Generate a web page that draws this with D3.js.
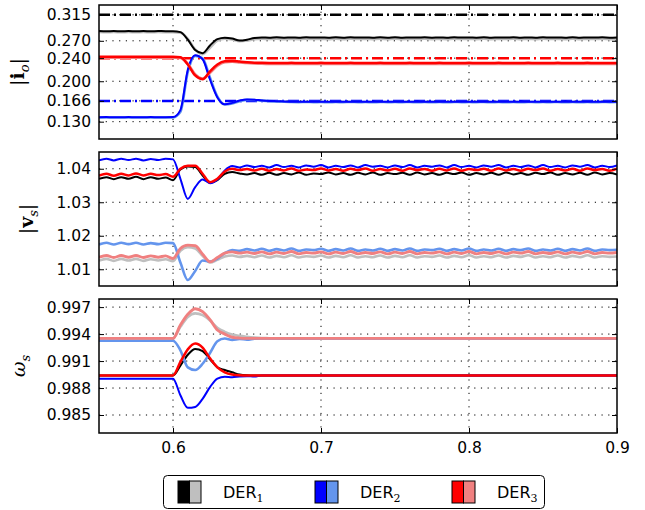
<!DOCTYPE html>
<html>
<head>
<meta charset="utf-8">
<script src="https://cdn.jsdelivr.net/npm/d3@7"></script>
<style>
body { margin: 0; background: #fff; }
text { font-family: "DejaVu Sans", sans-serif; }
</style>
</head>
<body>
<div id="myChart"></div>
<script>
// time axis (s) for the |i_o| and |v_s| traces
const time = [0.55,0.555,0.56,0.565,0.57,0.575,0.58,0.585,0.59,0.595,
  0.6,0.605,0.61,0.615,0.62,0.625,0.63,0.635,0.64,0.645,
  0.65,0.655,0.66,0.665,0.67,0.675,0.68,0.685,0.69,0.695,
  0.7,0.705,0.71,0.715,0.72,0.725,0.73,0.735,0.74,0.745,
  0.75,0.755,0.76,0.765,0.77,0.775,0.78,0.785,0.79,0.795,
  0.8,0.805,0.81,0.815,0.82,0.825,0.83,0.835,0.84,0.845,
  0.85,0.855,0.86,0.865,0.87,0.875,0.88,0.885,0.89,0.895,
  0.9];
// time axis for the omega traces (flat outside the transient)
const timeOmega = [0.55,0.595,0.6,0.605,0.61,0.615,0.62,0.625,0.63,0.635,0.64,0.645,0.65,0.655,0.66,0.665,0.67,0.9];

const derNames = ["1", "2", "3"];
const timeTicks = [0.6, 0.7, 0.8, 0.9];
const ioTicks = [0.130, 0.166, 0.200, 0.240, 0.270, 0.315];
const vsTicks = [1.01, 1.02, 1.03, 1.04];
const wTicks = [0.985, 0.988, 0.991, 0.994, 0.997];

// reference currents (dash-dot)
const ioRef = [0.315, 0.166, 0.240];

// |i_o|
const ioDer1 = [0.2868,0.2865,0.2869,0.2866,0.2868,0.2865,0.2869,0.2866,0.2868,0.2867,
  0.2866,0.2850,0.2720,0.2540,0.2485,0.2620,0.2730,0.2755,0.2740,0.2705,
  0.2720,0.2750,0.2758,0.2754,0.2760,0.2755,0.2759,0.2754,0.2761,0.2756,
  0.2758,0.2754,0.2760,0.2755,0.2761,0.2756,0.2759,0.2754,0.2760,0.2755,
  0.2761,0.2754,0.2758,0.2756,0.2760,0.2755,0.2759,0.2754,0.2761,0.2756,
  0.2758,0.2755,0.2760,0.2754,0.2759,0.2756,0.2761,0.2755,0.2758,0.2754,
  0.2760,0.2756,0.2759,0.2754,0.2761,0.2755,0.2758,0.2756,0.2760,0.2755,
  0.2758];
const ioDer1b = [0.2852,0.2848,0.2853,0.2849,0.2852,0.2848,0.2853,0.2849,0.2852,0.2850,
  0.2849,0.2842,0.2735,0.2550,0.2470,0.2580,0.2705,0.2735,0.2725,0.2695,
  0.2705,0.2728,0.2735,0.2731,0.2736,0.2730,0.2734,0.2729,0.2736,0.2731,
  0.2734,0.2729,0.2735,0.2730,0.2736,0.2731,0.2733,0.2729,0.2735,0.2730,
  0.2736,0.2729,0.2734,0.2731,0.2735,0.2730,0.2733,0.2729,0.2736,0.2731,
  0.2734,0.2730,0.2735,0.2729,0.2733,0.2731,0.2736,0.2730,0.2734,0.2729,
  0.2735,0.2731,0.2734,0.2729,0.2736,0.2730,0.2733,0.2731,0.2735,0.2730,
  0.2733];
const ioDer2 = [0.1377,0.1379,0.1378,0.1377,0.1379,0.1378,0.1377,0.1379,0.1378,0.1378,
  0.1380,0.1500,0.2200,0.2450,0.2380,0.2030,0.1720,0.1600,0.1625,0.1665,
  0.1685,0.1680,0.1668,0.1660,0.1655,0.1650,0.1646,0.1644,0.1647,0.1644,
  0.1646,0.1643,0.1646,0.1644,0.1647,0.1644,0.1646,0.1643,0.1647,0.1644,
  0.1646,0.1644,0.1647,0.1643,0.1646,0.1644,0.1646,0.1643,0.1647,0.1644,
  0.1646,0.1644,0.1647,0.1643,0.1646,0.1644,0.1646,0.1643,0.1647,0.1644,
  0.1646,0.1644,0.1647,0.1643,0.1646,0.1644,0.1646,0.1643,0.1647,0.1644,
  0.1646];
const ioDer2b = [0.1371,0.1373,0.1372,0.1371,0.1373,0.1372,0.1371,0.1373,0.1372,0.1372,
  0.1373,0.1470,0.2160,0.2440,0.2395,0.2060,0.1735,0.1598,0.1615,0.1655,
  0.1678,0.1676,0.1664,0.1655,0.1650,0.1644,0.1640,0.1638,0.1641,0.1638,
  0.1640,0.1637,0.1640,0.1638,0.1641,0.1638,0.1640,0.1637,0.1641,0.1638,
  0.1640,0.1638,0.1641,0.1637,0.1640,0.1638,0.1640,0.1637,0.1641,0.1638,
  0.1640,0.1638,0.1641,0.1637,0.1640,0.1638,0.1640,0.1637,0.1641,0.1638,
  0.1640,0.1638,0.1641,0.1637,0.1640,0.1638,0.1640,0.1637,0.1641,0.1638,
  0.1640];
const ioDer3 = [0.2422,0.2424,0.2423,0.2422,0.2424,0.2423,0.2422,0.2424,0.2423,0.2423,
  0.2423,0.2415,0.2290,0.2100,0.2035,0.2170,0.2290,0.2345,0.2350,0.2340,
  0.2330,0.2322,0.2318,0.2316,0.2317,0.2314,0.2318,0.2315,0.2317,0.2314,
  0.2318,0.2315,0.2317,0.2315,0.2318,0.2314,0.2317,0.2315,0.2318,0.2314,
  0.2317,0.2315,0.2318,0.2314,0.2317,0.2315,0.2318,0.2314,0.2317,0.2315,
  0.2318,0.2314,0.2317,0.2315,0.2318,0.2314,0.2317,0.2315,0.2318,0.2314,
  0.2317,0.2315,0.2318,0.2314,0.2317,0.2315,0.2318,0.2314,0.2317,0.2315,
  0.2316];
const ioDer3b = [0.2409,0.2411,0.2410,0.2409,0.2411,0.2410,0.2409,0.2411,0.2410,0.2410,
  0.2410,0.2408,0.2300,0.2115,0.2045,0.2150,0.2270,0.2330,0.2340,0.2330,
  0.2318,0.2310,0.2305,0.2303,0.2300,0.2304,0.2301,0.2303,0.2300,0.2304,
  0.2301,0.2303,0.2300,0.2304,0.2301,0.2303,0.2300,0.2304,0.2301,0.2303,
  0.2300,0.2304,0.2301,0.2303,0.2300,0.2304,0.2301,0.2303,0.2300,0.2304,
  0.2301,0.2303,0.2300,0.2304,0.2301,0.2303,0.2300,0.2304,0.2301,0.2303,
  0.2300,0.2304,0.2301,0.2303,0.2300,0.2304,0.2301,0.2303,0.2300,0.2304,
  0.2302];

// |v_s|
const vsDer1 = [1.0370,1.0375,1.0369,1.0375,1.0370,1.0376,1.0369,1.0375,1.0370,1.0374,
  1.0366,1.0398,1.0407,1.0405,1.0380,1.0358,1.0366,1.0385,1.0390,1.0386,
  1.0383,1.0387,1.0382,1.0388,1.0382,1.0387,1.0383,1.0389,1.0382,1.0386,
  1.0384,1.0389,1.0383,1.0387,1.0382,1.0388,1.0383,1.0389,1.0382,1.0387,
  1.0384,1.0388,1.0382,1.0389,1.0383,1.0387,1.0382,1.0388,1.0384,1.0389,
  1.0382,1.0387,1.0383,1.0388,1.0382,1.0389,1.0383,1.0387,1.0382,1.0388,
  1.0384,1.0389,1.0382,1.0387,1.0383,1.0388,1.0382,1.0389,1.0383,1.0387,
  1.0383];
const vsDer1b = [1.0126,1.0131,1.0125,1.0131,1.0126,1.0131,1.0125,1.0130,1.0126,1.0130,
  1.0124,1.0155,1.0166,1.0162,1.0140,1.0120,1.0128,1.0138,1.0141,1.0137,
  1.0140,1.0136,1.0141,1.0135,1.0140,1.0136,1.0142,1.0135,1.0139,1.0137,
  1.0141,1.0135,1.0140,1.0136,1.0142,1.0135,1.0139,1.0136,1.0141,1.0135,
  1.0140,1.0136,1.0142,1.0135,1.0139,1.0137,1.0141,1.0135,1.0140,1.0136,
  1.0142,1.0135,1.0139,1.0136,1.0141,1.0135,1.0140,1.0137,1.0142,1.0135,
  1.0139,1.0136,1.0141,1.0135,1.0140,1.0136,1.0142,1.0135,1.0139,1.0137,
  1.0138];
const vsDer2 = [1.0425,1.0430,1.0425,1.0430,1.0426,1.0430,1.0425,1.0429,1.0426,1.0430,
  1.0428,1.0370,1.0310,1.0345,1.0368,1.0357,1.0368,1.0395,1.0408,1.0404,
  1.0410,1.0405,1.0409,1.0404,1.0411,1.0405,1.0409,1.0404,1.0410,1.0406,
  1.0411,1.0404,1.0409,1.0405,1.0410,1.0404,1.0411,1.0406,1.0409,1.0404,
  1.0410,1.0405,1.0411,1.0404,1.0409,1.0406,1.0410,1.0404,1.0411,1.0405,
  1.0409,1.0404,1.0410,1.0406,1.0411,1.0404,1.0409,1.0405,1.0410,1.0404,
  1.0411,1.0405,1.0409,1.0404,1.0410,1.0406,1.0411,1.0404,1.0409,1.0405,
  1.0410];
const vsDer2b = [1.0174,1.0179,1.0174,1.0179,1.0175,1.0179,1.0174,1.0178,1.0175,1.0179,
  1.0178,1.0120,1.0068,1.0095,1.0126,1.0123,1.0132,1.0148,1.0157,1.0155,
  1.0160,1.0156,1.0161,1.0155,1.0160,1.0156,1.0162,1.0155,1.0159,1.0157,
  1.0161,1.0155,1.0160,1.0156,1.0162,1.0155,1.0159,1.0156,1.0161,1.0155,
  1.0160,1.0156,1.0162,1.0155,1.0159,1.0157,1.0161,1.0155,1.0160,1.0156,
  1.0162,1.0155,1.0159,1.0156,1.0161,1.0155,1.0160,1.0157,1.0162,1.0155,
  1.0159,1.0156,1.0161,1.0155,1.0160,1.0156,1.0162,1.0155,1.0159,1.0157,
  1.0158];
const vsDer3 = [1.0380,1.0385,1.0379,1.0385,1.0380,1.0386,1.0380,1.0385,1.0381,1.0384,
  1.0376,1.0400,1.0409,1.0409,1.0385,1.0360,1.0370,1.0392,1.0400,1.0396,
  1.0399,1.0395,1.0400,1.0394,1.0399,1.0395,1.0401,1.0394,1.0398,1.0396,
  1.0401,1.0395,1.0399,1.0394,1.0400,1.0396,1.0401,1.0394,1.0399,1.0395,
  1.0400,1.0394,1.0401,1.0396,1.0399,1.0394,1.0400,1.0395,1.0401,1.0394,
  1.0399,1.0396,1.0400,1.0394,1.0401,1.0395,1.0399,1.0394,1.0400,1.0396,
  1.0401,1.0394,1.0399,1.0395,1.0400,1.0394,1.0401,1.0396,1.0399,1.0394,
  1.0400];
const vsDer3b = [1.0136,1.0141,1.0135,1.0141,1.0136,1.0141,1.0135,1.0140,1.0136,1.0140,
  1.0132,1.0162,1.0172,1.0170,1.0145,1.0122,1.0135,1.0148,1.0152,1.0148,
  1.0151,1.0147,1.0152,1.0146,1.0151,1.0147,1.0153,1.0146,1.0150,1.0148,
  1.0152,1.0146,1.0151,1.0147,1.0153,1.0146,1.0150,1.0147,1.0152,1.0146,
  1.0151,1.0147,1.0153,1.0146,1.0150,1.0148,1.0152,1.0146,1.0151,1.0147,
  1.0153,1.0146,1.0150,1.0147,1.0152,1.0146,1.0151,1.0148,1.0153,1.0146,
  1.0150,1.0147,1.0152,1.0146,1.0151,1.0147,1.0153,1.0146,1.0150,1.0148,
  1.0150];

// omega_s
const wDer1 = [0.98940,0.98940,0.98940,0.9905,0.9917,0.99235,0.9921,0.9912,0.9903,0.9900,0.98975,0.9895,0.98942,0.9894,0.9894,0.9894,0.9894,0.9894];
const wDer1b = [0.99352,0.99352,0.99352,0.9948,0.9959,0.9963,0.9961,0.9955,0.9947,0.99425,0.99395,0.9938,0.9937,0.99362,0.99356,0.99354,0.99352,0.99352];
const wDer2 = [0.98903,0.98903,0.98903,0.9872,0.9858,0.9859,0.9868,0.9881,0.98905,0.98925,0.9892,0.98928,0.98932,0.98928,0.9894,0.9894,0.9894,0.9894];
const wDer2b = [0.99326,0.99326,0.99326,0.9922,0.9903,0.9900,0.9907,0.9919,0.9932,0.9935,0.99335,0.99345,0.99338,0.99348,0.99352,0.99352,0.99352,0.99352];
const wDer3 = [0.98940,0.98940,0.98940,0.9909,0.9923,0.99295,0.9925,0.9913,0.9903,0.98975,0.9895,0.98942,0.9894,0.9894,0.9894,0.9894,0.9894,0.9894];
const wDer3b = [0.99352,0.99352,0.99352,0.9950,0.9962,0.99682,0.9965,0.9956,0.99445,0.9940,0.99365,0.99355,0.99352,0.99352,0.99352,0.99352,0.99352,0.99352];

const colors = {
  dark: ["#000000", "#0000ff", "#ff0000"],
  light: ["#bfbfbf", "#6495ed", "#f08080"],
};

const size = {
  width: 645,
  height: 510,
  left: 99,
  right: 617,
  panels: [{ top: 5, height: 134 }, { top: 152, height: 134 }, { top: 299, height: 134 }],
  legend: { x: 163.5, y: 475.5, width: 381, height: 33 },
  // DER3 is drawn last and a bit wider so that overlapping traces stay red
  darkWidth: [2, 2, 2.5],
  lightWidth: [2.6, 2.6, 2.9],
};

const panels = [
  {
    domain: [0.10, 0.332], ticks: ioTicks, fmt: d3.format(".3f"), time: time,
    light: [ioDer1b, ioDer2b, ioDer3b], dark: [ioDer1, ioDer2, ioDer3], refs: ioRef,
    label: { x: 24, parts: [["|", ""], ["i", "bold"], ["o", "sub"], ["|", ""]] },
  },
  {
    domain: [1.005, 1.045], ticks: vsTicks, fmt: d3.format(".2f"), time: time,
    light: [vsDer1b, vsDer2b, vsDer3b], dark: [vsDer1, vsDer2, vsDer3],
    label: { x: 33, parts: [["|", ""], ["v", "bold"], ["s", "sub"], ["|", ""]] },
  },
  {
    domain: [0.983, 0.9979], ticks: wTicks, fmt: d3.format(".3f"), time: timeOmega,
    light: [wDer1b, wDer2b, wDer3b], dark: [wDer1, wDer2, wDer3],
    label: { x: 25, parts: [["ω", "ital"], ["s", "sub"]] },
  },
];

const drawChart = function(size) {
  const svg = d3.select("#myChart").append("svg")
    .attr("width", size.width)
    .attr("height", size.height);

  const x = d3.scaleLinear().domain([0.55, 0.9]).range([size.left, size.right]);

  panels.forEach((p, pi) => {
    const box = size.panels[pi];
    const y = d3.scaleLinear().domain(p.domain).range([box.top + box.height, box.top]);
    const g = svg.append("g");

    svg.append("clipPath").attr("id", `clip${pi}`)
      .append("rect")
      .attr("x", size.left).attr("y", box.top)
      .attr("width", size.right - size.left).attr("height", box.height);

    // dotted grid
    g.selectAll(".hgrid").data(p.ticks).enter().append("line")
      .attr("x1", size.left).attr("x2", size.right)
      .attr("y1", (d) => y(d)).attr("y2", (d) => y(d))
      .attr("stroke", "#000").attr("stroke-width", 1).attr("stroke-dasharray", "1.2,5.5");
    g.selectAll(".vgrid").data(timeTicks.slice(0, 3)).enter().append("line")
      .attr("x1", (d) => x(d)).attr("x2", (d) => x(d))
      .attr("y1", box.top).attr("y2", box.top + box.height)
      .attr("stroke", "#000").attr("stroke-width", 1).attr("stroke-dasharray", "1.2,5.5");

    const plot = g.append("g").attr("clip-path", `url(#clip${pi})`);

    // reference set-points
    if (p.refs) {
      plot.selectAll(".ref").data(p.refs).enter().append("line")
        .attr("x1", x(0.55)).attr("x2", x(0.9))
        .attr("y1", (d) => y(d)).attr("y2", (d) => y(d))
        .attr("stroke", (d, i) => colors.dark[i])
        .attr("stroke-width", 2.5)
        .attr("stroke-dasharray", "11,4,2,4");
    }

    const line = d3.line()
      .x((d) => x(d[0]))
      .y((d) => y(d[1]))
      .curve(d3.curveMonotoneX);

    [0, 1, 2].forEach((k) => {
      plot.append("path")
        .attr("d", line(d3.zip(p.time, p.light[k])))
        .attr("fill", "none").attr("stroke", colors.light[k])
        .attr("stroke-width", size.lightWidth[k]).attr("stroke-linejoin", "round");
      plot.append("path")
        .attr("d", line(d3.zip(p.time, p.dark[k])))
        .attr("fill", "none").attr("stroke", colors.dark[k])
        .attr("stroke-width", size.darkWidth[k]).attr("stroke-linejoin", "round");
    });

    // ticks pointing inwards on every side
    const left = g.append("g").attr("transform", `translate(${size.left},0)`)
      .call(d3.axisLeft(y).tickValues(p.ticks).tickFormat(p.fmt).tickSize(-5).tickPadding(8));
    const right = g.append("g").attr("transform", `translate(${size.right},0)`)
      .call(d3.axisRight(y).tickValues(p.ticks).tickFormat("").tickSize(-5));
    const top = g.append("g").attr("transform", `translate(0,${box.top})`)
      .call(d3.axisTop(x).tickValues(timeTicks).tickFormat("").tickSize(-5));
    const bottom = g.append("g").attr("transform", `translate(0,${box.top + box.height})`)
      .call(d3.axisBottom(x).tickValues(timeTicks)
        .tickFormat(pi === 2 ? d3.format(".1f") : "").tickSize(-5).tickPadding(9));
    [left, right, top, bottom].forEach((a) => {
      a.select(".domain").remove();
      a.selectAll("line").attr("stroke", "#000");
      a.selectAll("text").attr("fill", "#000")
        .style("font-family", "'DejaVu Sans', sans-serif").style("font-size", "15.5px");
    });

    g.append("rect")
      .attr("x", size.left).attr("y", box.top)
      .attr("width", size.right - size.left).attr("height", box.height)
      .attr("fill", "none").attr("stroke", "#000").attr("stroke-width", 1.5);

    // y label (mathtext-like)
    const lab = svg.append("text")
      .attr("transform", `translate(${p.label.x},${box.top + box.height / 2}) rotate(-90)`)
      .attr("text-anchor", "middle")
      .style("font-family", "'DejaVu Serif', serif")
      .style("font-size", "19px");
    let shifted = false;
    p.label.parts.forEach(([s, kind]) => {
      const t = lab.append("tspan").text(s);
      if (kind === "bold") t.attr("font-weight", "bold");
      if (kind === "ital") t.attr("font-style", "italic");
      if (kind === "sub") {
        t.attr("font-style", "italic").attr("font-size", "13px").attr("dy", 5);
        shifted = true;
      } else if (shifted) {
        t.attr("dy", -5);
        shifted = false;
      }
    });
  });

  // legend
  const L = size.legend;
  const legend = svg.append("g");
  legend.append("rect")
    .attr("x", L.x).attr("y", L.y).attr("width", L.width).attr("height", L.height)
    .attr("rx", 4).attr("fill", "#fff").attr("stroke", "#000").attr("stroke-width", 1);
  derNames.forEach((name, k) => {
    const gx = L.x + 14.5 + k * 137;
    const item = legend.append("g").attr("transform", `translate(${gx},${L.y + 5.5})`);
    item.append("rect").attr("x", 0).attr("y", 0).attr("width", 11.5).attr("height", 22)
      .attr("fill", colors.dark[k]).attr("stroke", "#000").attr("stroke-width", 1);
    item.append("rect").attr("x", 11.5).attr("y", 0).attr("width", 11.5).attr("height", 22)
      .attr("fill", colors.light[k]).attr("stroke", "#000").attr("stroke-width", 1);
    const txt = item.append("text").attr("x", 45).attr("y", 16.5)
      .style("font-size", "16px").attr("fill", "#000");
    txt.append("tspan").text("DER");
    txt.append("tspan").text(name).attr("dy", 4)
      .style("font-family", "'DejaVu Serif', serif").style("font-size", "11px");
  });
};

window.onload = () => {
  drawChart(size);
};
</script>
</body>
</html>
